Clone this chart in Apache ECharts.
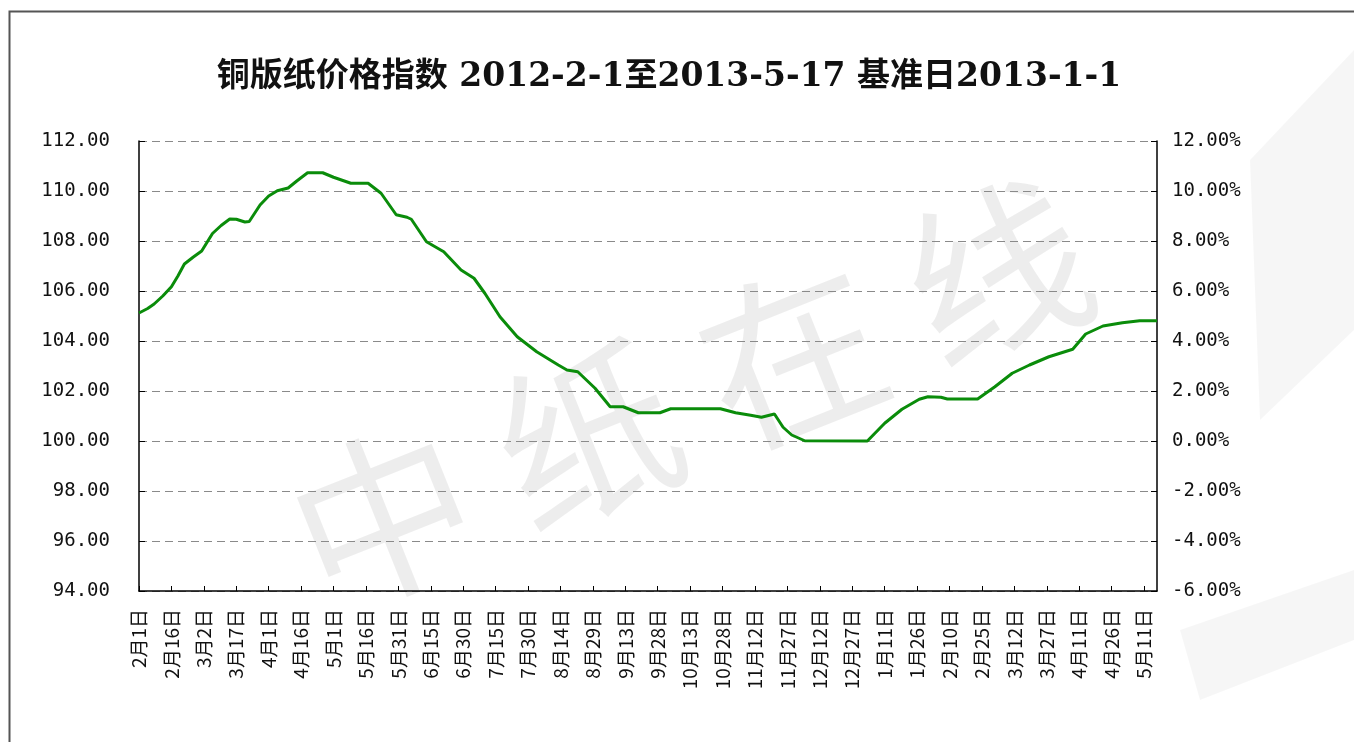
<!DOCTYPE html>
<html>
<head>
<meta charset="utf-8">
<script src="https://cdn.jsdelivr.net/npm/echarts@6/dist/echarts.min.js"></script>
<style>
html,body{margin:0;padding:0;background:#fff;}
#chart{width:1354px;height:742px;}
</style>
</head>
<body>
<div id="chart"></div>
<script>
// Title
var titleText = '铜版纸价格指数 2012-2-1至2013-5-17 基准日2013-1-1';
// X tick labels, one every 15 days starting 2012-2-1 (day 0)
var tickLabels = ['2月1日','2月16日','3月2日','3月17日','4月1日','4月16日','5月1日','5月16日','5月31日','6月15日','6月30日','7月15日','7月30日','8月14日','8月29日','9月13日','9月28日','10月13日','10月28日','11月12日','11月27日','12月12日','12月27日','1月11日','1月26日','2月10日','2月25日','3月12日','3月27日','4月11日','4月26日','5月11日'];
var days = [0,4,7,11,15,18,21,25,29,34,38,42,45,49,51,56,60,64,69,73,78,85,90,98,106,112,119,124,126,133,141,149,155,160,167,175,184,194,198,203,211,218,224,231,241,246,269,276,283,288,294,298,302,308,337,345,353,361,365,371,374,388,396,404,412,421,432,438,446,455,463,471];
// Index values
var values = [105.12,105.3,105.48,105.8,106.17,106.6,107.08,107.35,107.6,108.3,108.62,108.88,108.87,108.76,108.78,109.44,109.8,110.01,110.12,110.4,110.73,110.73,110.55,110.31,110.31,109.91,109.05,108.95,108.87,107.97,107.57,106.84,106.51,105.91,104.97,104.17,103.57,103.04,102.84,102.77,102.11,101.37,101.37,101.13,101.13,101.29,101.29,101.13,101.03,100.95,101.08,100.55,100.24,100.01,100.0,100.71,101.27,101.67,101.77,101.75,101.68,101.68,102.17,102.71,103.04,103.37,103.67,104.28,104.6,104.73,104.81,104.81];

var seriesData = days.map(function(d,i){ return [d, values[i]]; });

var chart = echarts.init(document.getElementById('chart'));
var labelFont = "'DejaVu Sans Mono', monospace";
chart.setOption({
  backgroundColor: '#ffffff',
  animation: false,
  title: {
    text: titleText,
    left: 664,
    textAlign: 'center',
    top: 56,
    textStyle: {
      fontFamily: "'DejaVu Serif','Noto Sans CJK SC'",
      fontSize: 33,
      fontWeight: 'bold',
      color: '#111'
    }
  },
  graphic: [
    {
      type: 'rect', z: -10, silent: true,
      shape: {x: 9.5, y: 11.5, width: 2000, height: 2000},
      style: {fill: 'none', stroke: '#555', lineWidth: 2}
    },
    {
      type: 'polygon', z: -8, silent: true,
      shape: {points: [[1250,160],[1354,50],[1354,330],[1260,420]]},
      style: {fill: 'rgba(0,0,0,0.035)'}
    },
    {
      type: 'polygon', z: -8, silent: true,
      shape: {points: [[1180,630],[1354,570],[1354,640],[1200,700]]},
      style: {fill: 'rgba(0,0,0,0.035)'}
    },
    {
      type: 'text', z: -5, silent: true,
      x: 690, y: 395, rotation: 0.38,
      style: {
        text: '中 纸 在 线',
        fontSize: 180,
        fontFamily: "'Noto Sans CJK SC'",
        fill: 'rgba(0,0,0,0.07)',
        align: 'center',
        verticalAlign: 'middle'
      }
    }
  ],
  grid: {left: 139, right: 197, top: 141, bottom: 151, containLabel: false},
  xAxis: {
    type: 'value',
    min: 0,
    max: 471,
    interval: 15,
    splitLine: {show: false},
    axisLine: {onZero: false, lineStyle: {color: '#000', width: 1.5}},
    axisTick: {inside: true, length: 5, lineStyle: {color: '#000'}},
    axisLabel: {
      rotate: 90,
      margin: 18,
      fontSize: 19,
      fontFamily: "'Noto Sans CJK SC'",
      color: '#111',
      showMaxLabel: false,
      formatter: function(v){
        if (v % 15 !== 0) return '';
        var idx = v / 15;
        return tickLabels[idx] || '';
      }
    }
  },
  yAxis: [
    {
      type: 'value',
      min: 94, max: 112, interval: 2,
      axisLine: {show: true, onZero: false, lineStyle: {color: '#000', width: 1.5}},
      axisTick: {show: true, inside: true, length: 6, lineStyle: {color: '#000'}},
      splitLine: {show: true, lineStyle: {color: '#8a8a8a', width: 1.2, type: [8, 5]}},
      axisLabel: {
        margin: 29, fontSize: 19, fontFamily: labelFont, color: '#111',
        formatter: function(v){ return v.toFixed(2); }
      }
    },
    {
      type: 'value',
      position: 'right',
      min: -6, max: 12, interval: 2,
      axisLine: {show: true, onZero: false, lineStyle: {color: '#000', width: 1.5}},
      axisTick: {show: true, inside: true, length: 6, lineStyle: {color: '#000'}},
      splitLine: {show: false},
      axisLabel: {
        margin: 15, fontSize: 19, fontFamily: labelFont, color: '#111',
        formatter: function(v){ return v.toFixed(2) + '%'; }
      }
    }
  ],
  series: [{
    type: 'line',
    yAxisIndex: 0,
    data: seriesData,
    showSymbol: false,
    smooth: false,
    lineStyle: {color: '#0a8c0a', width: 3},
    itemStyle: {color: '#0a8c0a'}
  }]
});
</script>
</body>
</html>
